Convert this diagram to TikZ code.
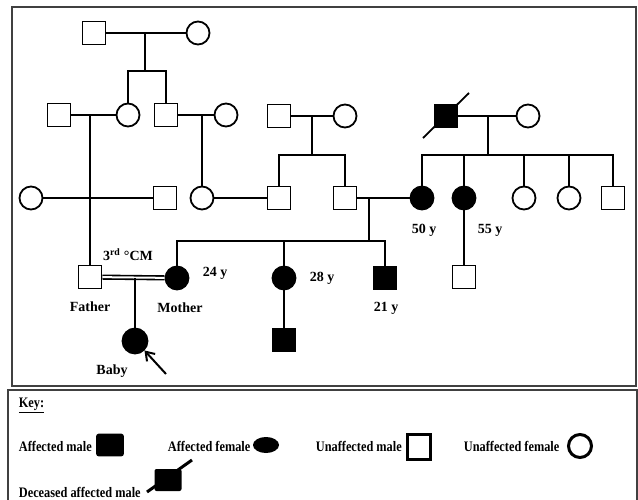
\documentclass[tikz,border=0pt]{standalone}
\usepackage{fontspec}
\setmainfont{Liberation Serif}
\newfontfamily\keyfont[FakeStretch=0.85]{Liberation Serif}
\usetikzlibrary{arrows.meta,shapes.geometric}
\begin{document}
\begin{tikzpicture}[x=1pt,y=-1pt,line width=1.8pt,
    male/.style={draw,rectangle,minimum size=23pt,inner sep=0pt},
    female/.style={draw,circle,minimum size=23pt,inner sep=0pt},
    aff/.style={fill=black},
    lbl/.style={font=\fontsize{14}{16}\selectfont\bfseries,inner sep=0pt},
    keylbl/.style={font=\keyfont\fontsize{14.5}{16}\selectfont\bfseries,inner sep=0pt},
    frame/.style={line width=1.8pt,black!75}]
  \useasboundingbox (0,0) rectangle (638,500);
  \draw[frame] (12,7) rectangle (636,386);
  \draw[frame] (8,505) -- (8,390) -- (637,390) -- (637,505);
  % generation I
  \draw
    (94,33) node[male] (I1){}
    (198,33) node[female] (I2){};
  % generation II
  \draw
    (59,115) node[male] (II1){}
    (128,115) node[female] (II2){}
    (166,115) node[male] (II3){}
    (226,115) node[female] (II4){}
    (279,116) node[male] (II5){}
    (345,116) node[female] (II6){}
    (446,116) node[male,aff] (II7){}
    (528,116) node[female] (II8){};
  % generation III
  \draw
    (31,198) node[female] (III1){}
    (165,198) node[male] (III2){}
    (202,198) node[female] (III3){}
    (279,198) node[male] (III4){}
    (345,198) node[male] (III5){}
    (422,198) node[female,aff] (III6){}
    (464,198) node[female,aff] (III7){}
    (524,198) node[female] (III8){}
    (569,198) node[female] (III9){}
    (613,198) node[male] (III10){};
  % generation IV
  \draw
    (90,277) node[male] (F){}
    (177,278) node[female,aff] (M){}
    (284,278) node[female,aff] (IV2){}
    (385,278) node[male,aff] (IV3){}
    (464,277) node[male] (IV4){};
  % generation V
  \draw
    (135,341) node[female,aff,minimum size=25pt] (V1){}
    (284,340) node[male,aff] (V2){};
  % lines of descent
  \coordinate (d1) at (145,33);
  \coordinate (s1) at (145,71);
  \coordinate (d2) at (90,115);
  \coordinate (d3) at (202,115);
  \coordinate (d4) at (312,116);
  \coordinate (s4) at (312,155);
  \coordinate (d5) at (488,116);
  \coordinate (s5) at (488,155);
  \coordinate (d6) at (369,198);
  \coordinate (s6) at (369,241);
  \coordinate (d7) at (135,278);
  \begin{scope}[-]
    \draw (I1) to (I2);
    \draw (d1) to (s1);
    \draw (II2.north) |- (s1) -| (II3.north);
    \draw (II1) to (II2);
    \draw (II3) to (II4);
    \draw (II5) to (II6);
    \draw (II7) to (II8);
    \draw (d2) to (F.north);
    \draw (d3) to (III3.north);
    \draw (d4) to (s4);
    \draw (III4.north) |- (s4) -| (III5.north);
    \draw (d5) to (s5);
    \draw (III6.north) |- (s5) -| (III10.north);
    \draw (III7.north) to (III7.north |- s5);
    \draw (III8.north) to (III8.north |- s5);
    \draw (III9.north) to (III9.north |- s5);
    \draw (III1) to (III2);
    \draw (III3) to (III4);
    \draw (III5) to (III6);
    \draw (III7) to (IV4);
    \draw (d6) to (s6);
    \draw (M.north) |- (s6) -| (IV3.north);
    \draw (IV2.north) to (IV2.north |- s6);
    \draw (IV2) to (V2);
    \draw[double,double distance=2pt,line width=1.6pt] (F) to (M);
    \draw (d7) to (V1);
  \end{scope}
  \draw ([shift={(-23,22)}]II7.center) -- ([shift={(23,-23)}]II7.center);
  \coordinate (ar) at (166,374);
  \draw[line width=2pt,-{Straight Barb[length=8pt,width=11pt]}] (ar) -- (V1.-45);
  % labels
  \node[lbl] (cm) at (128,255) {3\textsuperscript{rd} °CM};
  \node[lbl] (lf) at (90,307) {Father};
  \node[lbl] (lm) at (180,308) {Mother};
  \node[lbl] (lb) at (112,371) {Baby};
  \node[lbl] (a24) at (215,273) {24 y};
  \node[lbl] (a28) at (322,278) {28 y};
  \node[lbl] (a21) at (386,308) {21 y};
  \node[lbl] (a50) at (424,230) {50 y};
  \node[lbl] (a55) at (490,230) {55 y};
  % key
  \node[keylbl,anchor=west] (key) at (18,405) {\underline{Key:}};
  \node[keylbl,anchor=west] (k1) at (18,446) {Affected male};
  \node[keylbl,anchor=west] (k2) at (167,446) {Affected female};
  \node[keylbl,anchor=west] (k3) at (315,446) {Unaffected male};
  \node[keylbl,anchor=west] (k4) at (463,446) {Unaffected female};
  \node[keylbl,anchor=west] (k5) at (18,492) {Deceased affected male};
  \node[draw,fill=black,rounded corners=2pt,minimum width=26pt,minimum height=21pt,inner sep=0pt] (s1k) at (110,445) {};
  \node[ellipse,fill=black,minimum width=26pt,minimum height=16pt,inner sep=0pt] (s2k) at (266,445) {};
  \node[draw,line width=3pt,minimum width=23pt,minimum height=25pt,inner sep=0pt] (s3k) at (419,447) {};
  \node[draw,circle,line width=3pt,minimum size=23pt,inner sep=0pt] (s4k) at (580,446) {};
  \node[fill=black,rounded corners=2pt,minimum width=27pt,minimum height=22pt,inner sep=0pt] (s5k) at (168,480) {};
  \draw[line width=3pt] ([shift={(-21,12)}]s5k.center) -- ([shift={(24,-20)}]s5k.center);
\end{tikzpicture}
\end{document}
